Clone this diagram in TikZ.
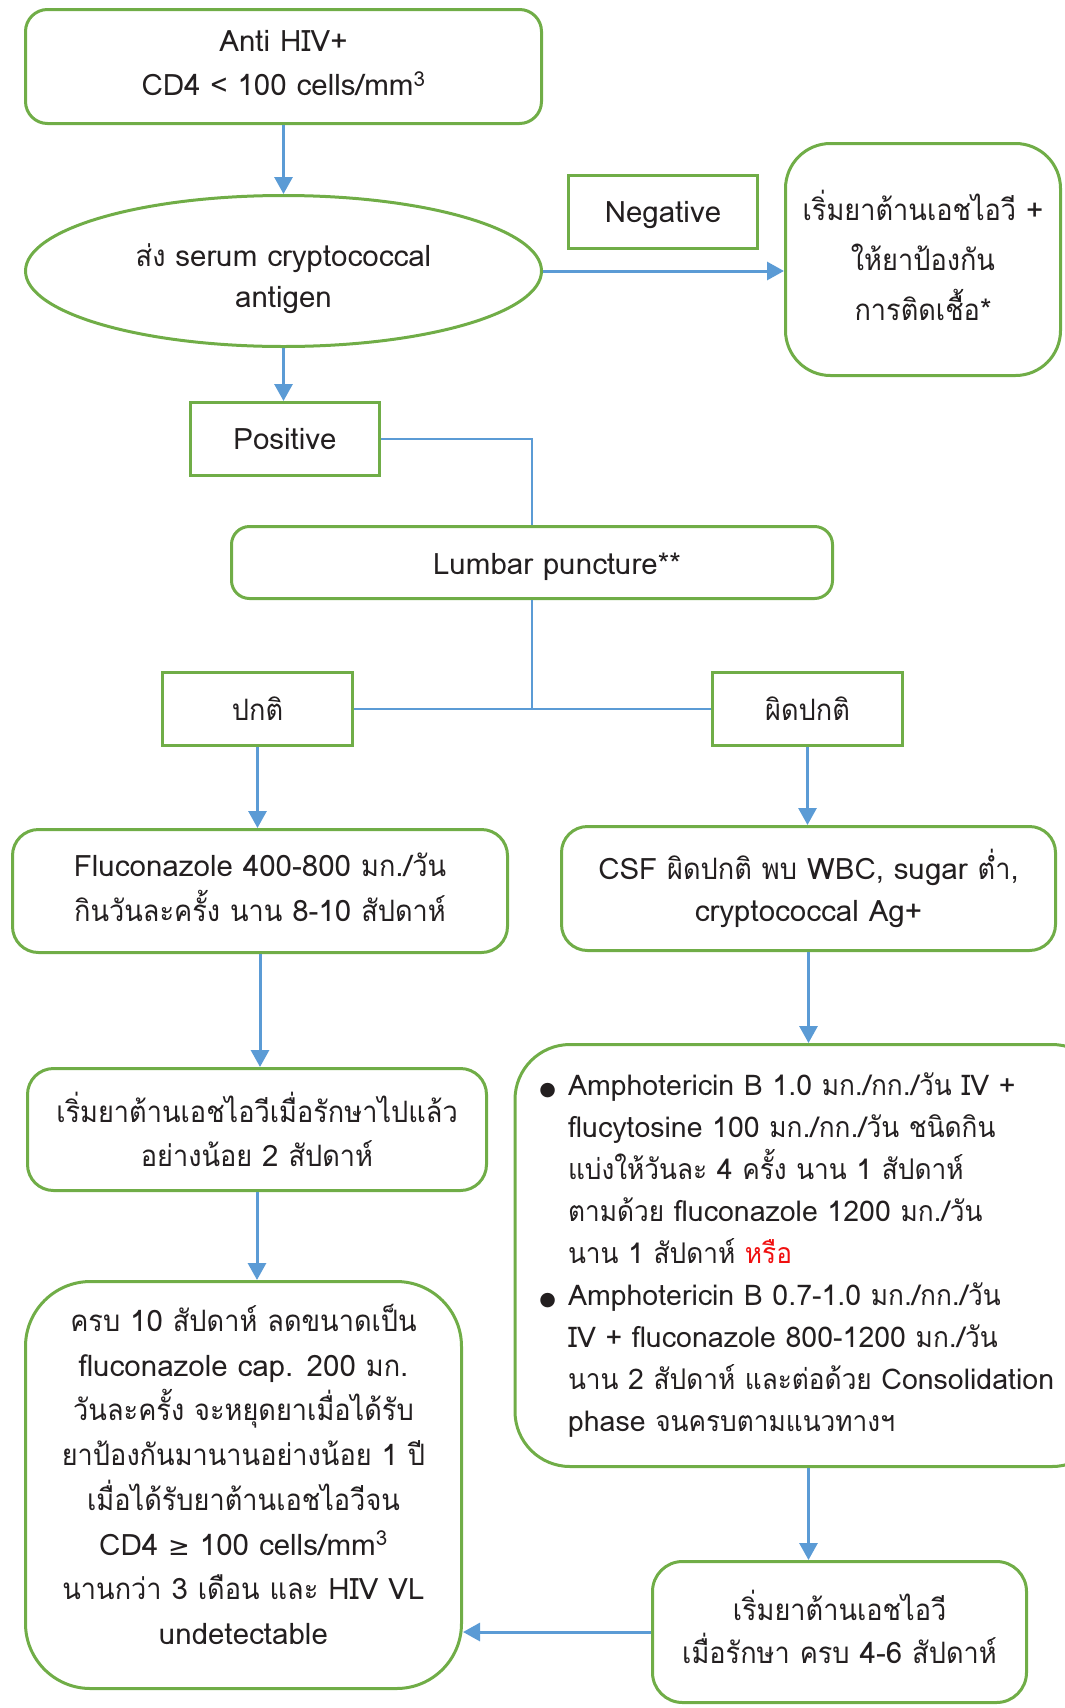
\documentclass[tikz,border=0pt]{standalone}
\usepackage{fontspec}
\setmainfont{Loma}[Script=Thai]
\newfontfamily\thaifont{Loma}[Script=Thai, FakeStretch=0.92]
\newfontfamily\symfont{DejaVu Sans}
\XeTeXinterchartokenstate=1
\newXeTeXintercharclass\thaicls
\count255="0E01
\loop\ifnum\count255<"0E5C \XeTeXcharclass\count255=\thaicls \advance\count255 by 1 \repeat
\XeTeXinterchartoks 0 \thaicls = {\thaifont}
\XeTeXinterchartoks 4095 \thaicls = {\thaifont}
\XeTeXinterchartoks \thaicls 0 = {\rmfamily}
\XeTeXinterchartoks \thaicls 4095 = {\rmfamily}
\usetikzlibrary{arrows.meta,shapes.geometric,calc}
\definecolor{grn}{HTML}{70AD47}
\definecolor{blu}{HTML}{5B9BD5}
\definecolor{txt}{HTML}{231F20}
\definecolor{redt}{HTML}{F01010}
\newcommand\shiftlines[2]{\raisebox{#1}[\height][\depth]{\begin{tabular}{@{}c@{}}#2\end{tabular}}}
\newcommand\bul{\llap{{\symfont\fontsize{19}{42}\selectfont ●}\hspace{12pt}}}
\begin{document}
\begin{tikzpicture}[x=1pt,y=-1pt,
  every node/.style={text=txt, font=\fontsize{29.5}{44}\selectfont},
  rbox/.style={draw=grn, line width=3pt, rounded corners=#1, align=center, inner sep=0pt},
  rbox/.default=22pt,
  sbox/.style={draw=grn, line width=3pt, align=center, inner sep=0pt},
  arr/.style={draw=blu, line width=3pt, -{Triangle[width=18pt,length=17pt]}},
  ln/.style={draw=blu, line width=2pt}]
\useasboundingbox (0,0) rectangle (1065,1708);

\node[rbox, minimum width=516pt, minimum height=114pt] (hiv) at (283.5,66.5)
  {\shiftlines{2pt}{Anti HIV+\\CD4 < 100 cells/mm\textsuperscript{3}}};
\node[draw=grn, line width=3pt, ellipse, inner sep=0pt, minimum width=516pt, minimum height=151pt, align=center,
  font=\fontsize{29.5}{41}\selectfont] (ell) at (283.5,271)
  {\shiftlines{-8pt}{ส่ง serum cryptococcal\\antigen}};
\node[sbox, minimum width=189pt, minimum height=73pt] (neg) at (663,212)
  {\raisebox{-3pt}[\height][\depth]{Negative}};
\node[rbox=45pt, minimum width=275pt, minimum height=232pt] (rt) at (923,259.5)
  {\shiftlines{-2pt}{เริ่มยาต้านเอชไอวี +\\[6pt]ให้ยาป้องกัน\\[6pt]การติดเชื้อ*}};
\node[sbox, minimum width=189pt, minimum height=73pt] (pos) at (285,439) {Positive};
\node[rbox=18pt, minimum width=601pt, minimum height=72pt] (lp) at (532,562.5)
  {\hspace*{50pt}\raisebox{-4pt}[\height][\depth]{Lumbar puncture**}};
\node[sbox, minimum width=190pt, minimum height=73pt] (nrm) at (257.5,709) {ปกติ};
\node[sbox, minimum width=190pt, minimum height=73pt] (abn) at (807.5,709) {ผิดปกติ};
\node[rbox=26pt, minimum width=495pt, minimum height=123pt] (flu) at (260,891)
  {\shiftlines{1pt}{Fluconazole 400-800 มก./วัน\\กินวันละครั้ง นาน 8-10 สัปดาห์}};
\node[rbox=26pt, minimum width=494pt, minimum height=124pt] (csf) at (808.5,888.5)
  {CSF ผิดปกติ พบ WBC, sugar ต่ำ,\\[-2pt]cryptococcal Ag+};
\node[rbox=26pt, minimum width=459pt, minimum height=122pt] (art2) at (257,1129.5)
  {เริ่มยาต้านเอชไอวีเมื่อรักษาไปแล้ว\\อย่างน้อย 2 สัปดาห์};
\node[rbox=65pt, minimum width=436pt, minimum height=407pt, font=\fontsize{29.5}{44.7}\selectfont] (ten) at (243.5,1485)
  {\shiftlines{6pt}{ครบ 10 สัปดาห์ ลดขนาดเป็น\\fluconazole cap. 200 มก.\\วันละครั้ง จะหยุดยาเมื่อได้รับ\\ยาป้องกันมานานอย่างน้อย 1 ปี\\เมื่อได้รับยาต้านเอชไอวีจน\\CD4 {\symfont\fontsize{26}{44}\selectfont ≥} 100 cells/mm\textsuperscript{3}\\นานกว่า 3 เดือน และ HIV VL\\undetectable}};
\node[draw=grn, line width=3pt, rounded corners=55pt, align=left, inner xsep=53pt, inner ysep=0pt,
  minimum height=422pt, anchor=west, font=\fontsize{28.5}{42}\selectfont] (amb) at (513.5,1255.5)
  {\bul Amphotericin B 1.0 มก./กก./วัน IV +\\
   flucytosine 100 มก./กก./วัน ชนิดกิน\\
   แบ่งให้วันละ 4 ครั้ง นาน 1 สัปดาห์\\
   ตามด้วย fluconazole 1200 มก./วัน\\
   นาน 1 สัปดาห์ {\color{redt}หรือ}\\
   \bul Amphotericin B 0.7-1.0 มก./กก./วัน\\
   IV + fluconazole 800-1200 มก./วัน\\
   นาน 2 สัปดาห์ และต่อด้วย Consolidation\\
   phase จนครบตามแนวทางฯ};
\node[rbox=30pt, minimum width=374pt, minimum height=141pt] (art46) at (839.5,1632)
  {\shiftlines{-1.5pt}{เริ่มยาต้านเอชไอวี\\[-1pt]เมื่อรักษา ครบ 4-6 สัปดาห์}};

\draw[arr] (hiv.south) -- (hiv.south |- ell.north);
\draw[arr] (ell.east) -- (ell.east -| rt.west);
\draw[arr] (ell.south) -- (ell.south |- pos.north);
\draw[ln] (pos.east) -| (lp.north);
\draw[ln] (lp.south) -- (lp.south |- nrm.east);
\draw[ln] (nrm.east) -- (abn.west);
\draw[arr] (nrm.south) -- (nrm.south |- flu.north);
\draw[arr] (abn.south) -- (abn.south |- csf.north);
\draw[arr] (flu.south) -- (flu.south |- art2.north);
\draw[arr] (art2.south) -- (art2.south |- ten.north);
\draw[arr] (csf.south) -- (csf.south |- amb.north);
\draw[arr] (amb.south -| csf.south) -- (csf.south |- art46.north);
\draw[arr] (art46.west) -- (art46.west -| ten.east);
\end{tikzpicture}
\end{document}
